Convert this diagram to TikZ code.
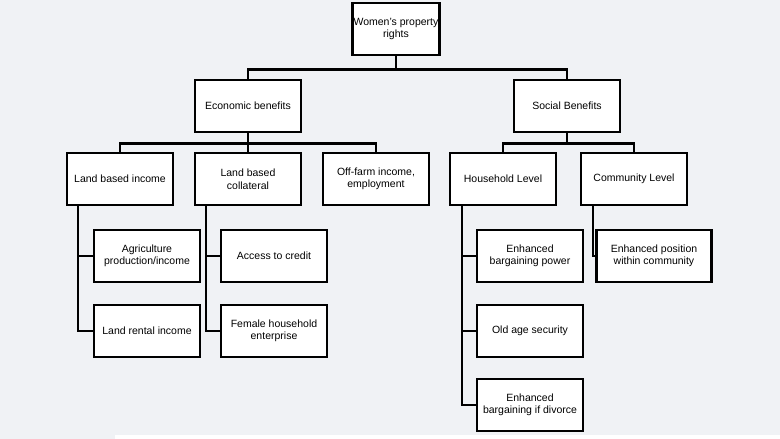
\documentclass[tikz,border=0pt]{standalone}
\usepackage{fontspec}
\setmainfont{Liberation Sans}
\usepackage{tikz}
\usetikzlibrary{positioning}
\definecolor{bgpage}{HTML}{F0F2F5}
\begin{document}
\begin{tikzpicture}[x=1pt, y=-1pt,
  box/.style={draw, line width=2.6pt, fill=white, minimum width=106pt, minimum height=52pt,
    align=center, inner sep=1pt, font=\fontsize{10.5}{12.5}\selectfont},
  link/.style={line width=2.6pt}]

\fill[bgpage] (0,0) rectangle (780,439);
\fill[white] (115,435) rectangle (780,439);
\useasboundingbox (0,0) rectangle (780,439);

% levels
\node[box, minimum width=82pt] (root) at (396,29) {Women's property\\rights};
\node[box] (econ) at (248,106) {Economic benefits};
\node[box] (social) at (567,106) {Social Benefits};

\node[box] (lbi) at (120,179) {Land based income};
\node[box] (lbc) at (248,179) {Land based\\collateral};
\node[box] (off) at (376,179) {Off-farm income,\\employment};
\node[box] (hh) at (503,179) {Household Level};
\node[box] (com) at (634,179) {Community Level};

\node[box] (agri) at (147,256) {Agriculture\\production/income};
\node[box] (rent) at (147,331) {Land rental income};
\node[box] (cred) at (274,256) {Access to credit};
\node[box] (ent) at (274,331) {Female household\\enterprise};
\node[box] (barg) at (530,256) {Enhanced\\bargaining power};
\node[box] (old) at (530,331) {Old age security};
\node[box] (div) at (530,405) {Enhanced\\bargaining if divorce};
\node[box, minimum width=115pt] (pos) at (654,256) {Enhanced position\\within community};

% tree lines
\draw[link] (root.south) -- ++(0,13) -| (econ.north);
\draw[link] (root.south) ++(0,13) -| (social.north);
\draw[link] (econ.south) -- ++(0,10) -| (lbi.north);
\draw[link] (econ.south) ++(0,10) -| (off.north);
\draw[link] (econ.south) -- (lbc.north);
\draw[link] (social.south) -- ++(0,10) -| (hh.north);
\draw[link] (social.south) ++(0,10) -| (com.north);

% side branches
\draw[link] (lbi.south -| 78,0) |- (rent.west);
\draw[link] (78,0 |- agri.west) -- (agri.west);
\draw[link] (lbc.south -| 206,0) |- (ent.west);
\draw[link] (206,0 |- cred.west) -- (cred.west);
\draw[link] (hh.south -| 462,0) |- (div.west);
\draw[link] (462,0 |- barg.west) -- (barg.west);
\draw[link] (462,0 |- old.west) -- (old.west);
\draw[link] (com.south -| 593,0) |- (pos.west);

\end{tikzpicture}
\end{document}
